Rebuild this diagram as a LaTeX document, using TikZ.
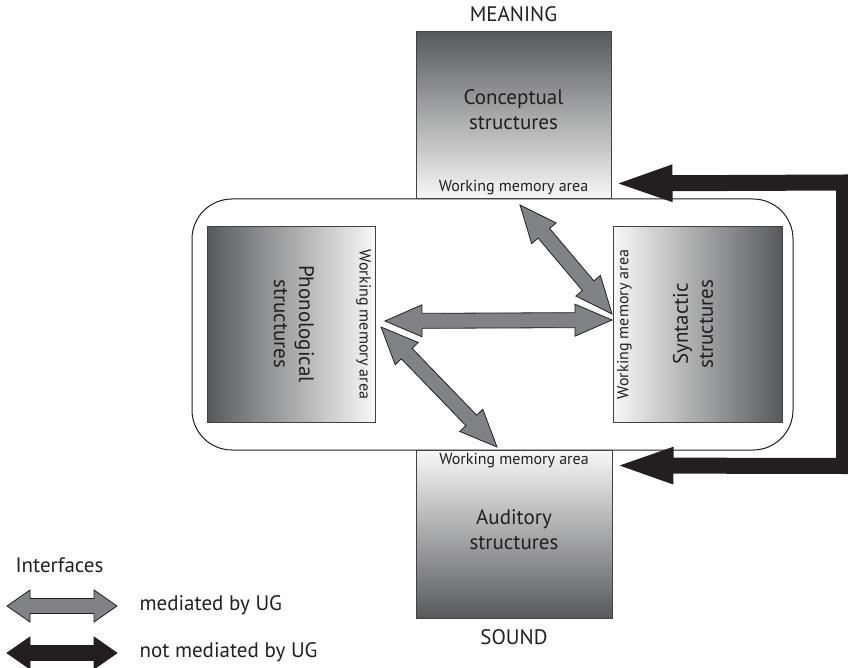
\documentclass[tikz,border=0pt]{standalone}
\usepackage{fontspec}
\setmainfont{PT Sans}
\usetikzlibrary{calc}
\usetikzlibrary{arrows.meta}

\definecolor{boxdark}{HTML}{58595B}
\definecolor{boxlight}{HTML}{F8F8F8}
\definecolor{ifgray}{HTML}{808285}
\definecolor{ink}{HTML}{231F20}

% fat double arrow: style, from, to, head length
\newcommand\fatarrow[4]{%
  \coordinate (fa1) at ($(#2)!#4!(#3)$);
  \coordinate (fa2) at ($(#3)!#4!(#2)$);
  \draw[#1] (#2) -- ($(fa1)!16pt!90:(#3)$) -- ($(fa1)!7.5pt!90:(#3)$)
    -- ($(fa2)!7.5pt!-90:(#2)$) -- ($(fa2)!16pt!-90:(#2)$) -- (#3)
    -- ($(fa2)!16pt!90:(#2)$) -- ($(fa2)!7.5pt!90:(#2)$)
    -- ($(fa1)!7.5pt!-90:(#3)$) -- ($(fa1)!16pt!-90:(#3)$) -- cycle;}

\begin{document}
\begin{tikzpicture}[x=1pt,y=-1pt,
    structbox/.style={draw=ink!85, line width=1pt, inner sep=0pt},
    strlabel/.style={font=\fontsize{21}{25}\selectfont, text=ink, align=center},
    wmlabel/.style={font=\fontsize{16}{18}\selectfont, text=ink},
    pole/.style={font=\fontsize{21}{24}\selectfont, text=ink},
    legtext/.style={font=\fontsize{21}{24}\selectfont, text=ink, anchor=west},
    ugif/.style={fill=ifgray, draw=ink, line width=0.8pt},
    nougif/.style={fill=ink, draw=ink, line width=0.8pt}]
\useasboundingbox (0,0) rectangle (848,668);

% shared working memory
\node[draw=ink, line width=1pt, rounded corners=40pt, minimum width=601pt,
      minimum height=251pt] (workspace) at (492.5,324.5) {};

% the four kinds of structure
\node[structbox, minimum width=195pt, minimum height=167pt,
      top color=boxdark, bottom color=boxlight] (concept) at (513.5,115.5) {};
\node[structbox, minimum width=196pt, minimum height=168pt,
      top color=boxlight, bottom color=boxdark] (audit) at (514,534) {};
\node[structbox, minimum width=168pt, minimum height=195pt,
      left color=boxdark, right color=boxlight] (phon) at (291,324.5) {};
\node[structbox, minimum width=169pt, minimum height=195pt,
      left color=boxlight, right color=boxdark] (synt) at (697.5,324.5) {};

\node[strlabel] (conceptlab) at (513.5,110) {Conceptual\\structures};
\node[strlabel] (auditlab) at (514,530) {Auditory\\structures};
\node[strlabel, rotate=-90] (phonlab) at (294,324) {Phonological\\structures};
\node[strlabel, rotate=90] (syntlab) at (693,324) {Syntactic\\structures};

\node[wmlabel] (conceptwm) at ([yshift=12pt]concept.south) {Working memory area};
\node[wmlabel] (auditwm) at ([yshift=-11pt]audit.north) {Working memory area};
\node[wmlabel, rotate=-90] (phonwm) at ([xshift=-12pt]phon.east) {Working memory area};
\node[wmlabel, rotate=90] (syntwm) at ([xshift=12pt]synt.west) {Working memory area};

\node[pole] (meaning) at (513.5,14) {MEANING};
\node[pole] (sound) at (514,637) {SOUND};

% interfaces mediated by UG
\coordinate (phon-s) at (385,321);
\coordinate (synt-p) at (612,320);
\coordinate (synt-c) at (612,314);
\coordinate (concept-s) at (520,205);
\coordinate (phon-a) at (381,327);
\coordinate (audit-p) at (497,447);
\fatarrow{ugif}{phon-s}{synt-p}{37pt}
\fatarrow{ugif}{concept-s}{synt-c}{37pt}
\fatarrow{ugif}{phon-a}{audit-p}{37pt}

% interface not mediated by UG
\coordinate (concept-e) at ([yshift=16pt]concept.south east);
\coordinate (audit-e) at ([yshift=-16pt]audit.north east);
\draw[ink, line width=16pt,
      {Triangle[length=61pt,width=32pt]}-{Triangle[length=61pt,width=32pt]}]
  (concept-e) -- (844,182.5) -- (844,466) -- (audit-e);

% legend
\node[legtext] (legtitle) at (12,565) {Interfaces};
\coordinate (leg1a) at (7,606);
\coordinate (leg1b) at (117,606);
\coordinate (leg2a) at (7,653);
\coordinate (leg2b) at (117,653);
\fatarrow{ugif}{leg1a}{leg1b}{23pt}
\fatarrow{nougif}{leg2a}{leg2b}{23pt}
\node[legtext] (leg1) at (136,605) {mediated by UG};
\node[legtext] (leg2) at (136,652) {not mediated by UG};
\end{tikzpicture}
\end{document}
